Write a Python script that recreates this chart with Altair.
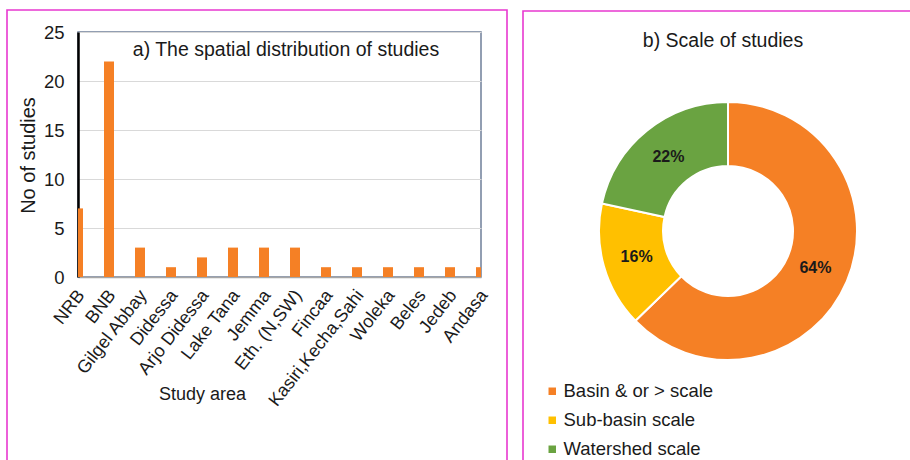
import altair as alt
import pandas as pd

# ---- data ----
areas = ["NRB", "BNB", "Gilgel Abbay", "Didessa", "Arjo Didessa", "Lake Tana", "Jemma",
         "Eth. (N,SW)", "Fincaa", "Kasiri,Kecha,Sahi", "Woleka", "Beles", "Jedeb", "Andasa"]
studies = [7, 22, 3, 1, 2, 3, 3, 3, 1, 1, 1, 1, 1, 1]

scales = ["Basin & or > scale", "Sub-basin scale", "Watershed scale"]
shares = [64, 16, 22]
scale_colors = ["#F58025", "#FFC000", "#6AA341"]

FONT = "Liberation Sans"
PINK = "#E838D0"

bars_df = pd.DataFrame({"area": areas, "n": studies})
pie_df = pd.DataFrame({"scale": scales, "pct": shares, "ord": list(range(len(scales)))})
pie_df["label"] = pie_df["pct"].astype(str) + "%"
one = pd.DataFrame({"k": [0]})

W, H = 403, 245

bars = alt.Chart(bars_df).mark_bar(color="#F58025", size=10, clip=True).encode(
    x=alt.X("area:N", sort=areas,
            scale=alt.Scale(type="point", padding=0),
            axis=alt.Axis(title="Study area", labelAngle=-52, labelFontSize=18,
                          labelFont=FONT, labelColor="#1a1a1a", labelPadding=15,
                          labelOffset=3,
                          ticks=False, domainColor="#A6A6A6", domainWidth=1.5,
                          grid=False, titleFont=FONT, titleFontSize=18,
                          titleFontWeight="normal", titleColor="#1a1a1a",
                          titleX=124, titleY=117, titleAlign="center",
                          titleBaseline="middle", titleAnchor="start")),
    y=alt.Y("n:Q", scale=alt.Scale(domain=[0, 25]),
            axis=alt.Axis(title="No of studies", values=[0, 5, 10, 15, 20, 25],
                          labelFontSize=18.5, labelFont=FONT, labelColor="#1a1a1a",
                          labelPadding=14, ticks=False, domainColor="#000000",
                          domainWidth=2.5, gridColor="#D9D9D9", gridWidth=1.2,
                          titleFont=FONT, titleFontSize=20, titleFontWeight="normal",
                          titleColor="#1a1a1a", titleX=-50, titleY=123,
                          titleAlign="center", titleBaseline="middle", titleAngle=-90)),
)

title_a = alt.Chart(one).mark_text(
    text="a) The spatial distribution of studies", font=FONT, fontSize=19.5,
    color="#1a1a1a", align="center", baseline="middle"
).encode(x=alt.value(208), y=alt.value(18))

title_b = alt.Chart(one).mark_text(
    text="b) Scale of studies", font=FONT, fontSize=19.5,
    color="#1a1a1a", align="center", baseline="middle"
).encode(x=alt.value(645), y=alt.value(9))

frame_a = alt.Chart(one).mark_rect(fill=None, stroke=PINK, strokeWidth=1.6).encode(
    x=alt.value(-71), x2=alt.value(429), y=alt.value(-22), y2=alt.value(450))

frame_b = alt.Chart(one).mark_rect(fill=None, stroke=PINK, strokeWidth=1.6).encode(
    x=alt.value(445), x2=alt.value(850), y=alt.value(-21), y2=alt.value(450))

donut = alt.Chart(pie_df).mark_arc(innerRadius=65, outerRadius=129,
                                    stroke="white", strokeWidth=2).encode(
    theta=alt.Theta("pct:Q", stack=True),
    order=alt.Order("ord:Q"),
    color=alt.Color("scale:N", sort=scales,
                    scale=alt.Scale(domain=scales, range=scale_colors),
                    legend=alt.Legend(title=None, orient="none", legendX=465,
                                      legendY=350, symbolType="square",
                                      symbolSize=56, symbolStrokeWidth=0,
                                      labelFont=FONT, labelFontSize=18.5,
                                      labelColor="#1a1a1a", labelOffset=2,
                                      rowPadding=10, padding=0)),
    x=alt.value(650), y=alt.value(199),
)

donut_text = alt.Chart(pie_df).mark_text(
    font=FONT, fontSize=16, fontWeight="bold", color="#1a1a1a",
    align="center", baseline="middle"
).encode(
    theta=alt.Theta("pct:Q", stack=True),
    order=alt.Order("ord:Q"),
    radius=alt.value(95),
    text="label:N",
    x=alt.value(650), y=alt.value(199),
)

chart = alt.layer(frame_a, frame_b, bars, title_a, title_b, donut, donut_text).properties(
    width=W, height=H,
    autosize=alt.AutoSizeParams(type="none"),
    padding={"left": 78, "top": 32, "right": 910 - 78 - W, "bottom": 460 - 32 - H},
    background="white",
).configure_view(stroke="#6F7F99", strokeWidth=1.5)

chart.save("out.html", embed_options={"renderer": "svg", "actions": False})
